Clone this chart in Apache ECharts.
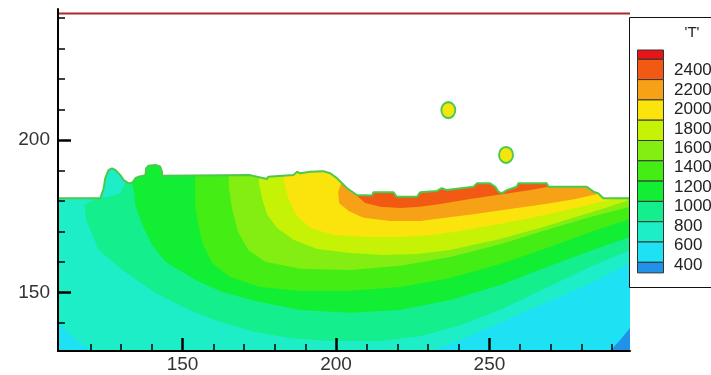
<!DOCTYPE html>
<html>
<head>
<meta charset="utf-8">
<script src="https://cdn.jsdelivr.net/npm/echarts@6/dist/echarts.min.js"></script>
<style>
  html, body { margin: 0; padding: 0; background: #fff; }
  #chart { width: 711px; height: 375px; }
</style>
</head>
<body>
<div id="chart"></div>
<script>
// axis extents and ticks
const xRange = [109.4, 295.8];
const yRange = [130.9, 242.9];
const xMajorTicks = [150, 200, 250];
const xMinorTicks = [120, 130, 140, 160, 170, 180, 190, 210, 220, 230, 240, 260, 270, 280, 290];
const yMajorTicks = [150, 200];
const yMinorTicks = [140, 160, 170, 180, 190, 210, 220, 230, 240];

// legend levels (top to bottom) and the contour palette
const legendLevels = [2400, 2200, 2000, 1800, 1600, 1400, 1200, 1000, 800, 600, 400];
const palette = ['#e8141a', '#f25a14', '#f7a116', '#fae40c', '#c5f205', '#84ee12',
                 '#44ee14', '#12ee34', '#14ee8c', '#1eeec8', '#1ee2f4', '#2092e8'];

// filled contour regions, T above each level (x, y in model units)
const bandBlue = [[109.4,130.9],[295.8,130.9],[295.8,194],[109.4,194]];
const bandCyan = [[109.4,130.9],[289.3,130.9],[292.6,134.5],[295.8,138.4],[295.8,194],[109.4,194]];
const bandTeal = [[109.4,140.5],[113.4,136.3],[117.3,133.1],[120.9,130.9],[230.7,130.9],[240.5,134.5],
  [253.5,140.2],[266.5,145.8],[282.9,153.0],[295.8,159.8],[295.8,194],[109.4,194]];
const bandGreenTeal = [[131.0,190.2],[131.3,186.2],[129.7,182.6],[126.5,181.5],[121.6,180.7],[118.0,178.7],
  [118.6,173.8],[120.6,168.9],[122.6,164.0],[130.4,157.4],[141.1,149.9],[151.9,144.4],[162.9,140.2],
  [173.7,137.1],[185.1,135.1],[198.1,134.2],[214.4,134.2],[227.4,135.7],[240.5,139.3],[253.5,144.4],
  [269.8,152.2],[282.9,158.5],[295.8,164.0],[295.8,194],[131.0,194]];
const bandGreen1 = [[134.3,190.2],[133.6,185.6],[134.3,182.3],[134.6,178.7],[136.9,172.2],[140.1,165.6],
  [144.4,160.1],[154.1,154.2],[162.9,150.2],[173.7,147.3],[188.3,144.3],[204.6,143.4],[220.9,144.3],
  [237.2,147.6],[253.5,152.5],[269.8,158.8],[282.9,163.7],[295.8,168.2],[295.8,194],[134.3,194]];
const bandGreen2 = [[154.1,190.2],[154.1,183.6],[154.1,178.7],[155.1,172.2],[156.7,165.6],[159.7,159.7],
  [165.5,155.1],[175.3,151.9],[188.3,150.6],[204.6,150.6],[220.9,151.9],[237.2,154.8],[253.5,159.4],
  [269.8,165.0],[282.9,169.9],[295.8,174.1],[295.8,194],[154.1,194]];
const bandLightGreen = [[164.9,190.2],[165.2,183.6],[166.2,177.1],[168.1,169.9],[171.4,164.0],[176.9,160.1],
  [188.3,157.8],[204.6,157.4],[220.9,158.8],[237.2,161.7],[253.5,165.9],[269.8,170.9],[282.9,174.8],
  [295.8,178.1],[295.8,194],[164.9,194]];
const bandYellowGreen = [[174.7,190.2],[175.0,185.3],[176.0,180.4],[177.6,175.4],[180.8,171.2],[186.1,167.3],
  [193.9,164.3],[204.6,163.0],[215.4,162.3],[226.5,162.7],[237.2,164.0],[253.5,167.6],[266.5,171.2],
  [277.3,174.5],[287.8,177.7],[295.8,180.4],[295.8,194],[174.7,194]];
const bandYellow = [[182.8,190.2],[183.1,186.2],[184.4,181.0],[187.0,175.4],[191.6,171.2],[199.1,168.9],
  [210.2,168.2],[220.9,168.2],[231.7,168.9],[240.5,170.2],[253.5,172.5],[266.5,175.1],[278.0,177.7],
  [286.2,179.7],[290.1,180.7],[291.1,183.6],[291.1,194],[182.8,194]];
const bandOrange = [[202.3,187.6],[200.7,183.0],[201.0,179.4],[204.0,176.8],[208.9,174.5],[217.7,173.5],
  [227.4,173.5],[235.6,174.5],[245.3,175.8],[256.7,177.4],[268.2,179.0],[278.0,180.7],[285.2,182.3],
  [286.2,185.3],[286.2,194],[202.3,194]];
const bandOrangeRed = [[206.6,185.3],[206.9,181.7],[209.5,179.4],[214.4,178.1],[220.9,177.7],[227.4,178.1],
  [233.9,179.0],[243.7,180.7],[255.8,182.5],[263.3,183.6],[270.4,184.9],[271.4,187.6],[271.4,194],[206.6,194]];

// free surface of the part
const surface = [[109.4,180.9],[123.2,180.9],[124.3,184.2],[124.8,187.5],[125.9,190.2],[127.0,190.7],
  [128.1,190.2],[129.7,188.5],[130.8,186.9],[132.4,185.8],[133.7,186.1],[134.6,187.5],[135.7,188.0],
  [137.9,188.5],[138.1,190.7],[138.9,191.6],[141.1,191.8],[142.7,191.3],[143.3,189.6],[143.3,188.3],
  [172.0,188.5],[177.5,187.2],[177.9,188.0],[186.1,188.5],[187.3,189.6],[188.3,189.1],[191.6,189.6],
  [195.8,189.8],[198.1,189.1],[200.3,187.5],[203.6,184.2],[206.8,182.0],[211.7,181.8],[212.2,182.9],
  [218.7,182.9],[219.8,181.4],[226.4,181.4],[227.4,182.9],[232.9,183.3],[234.5,184.2],[236.1,183.6],
  [244.8,184.7],[245.9,185.8],[250.2,185.8],[251.9,184.7],[252.9,183.1],[254.0,182.5],[255.7,183.6],
  [258.9,184.7],[259.4,185.8],[268.7,185.8],[269.2,184.7],[281.7,184.7],[283.9,183.1],[285.5,182.5],
  [287.1,180.9],[295.8,180.9]];

// droplets above the surface and the top boundary line
const dropletX = [236.6, 255.4];
const dropletY = [209.8, 195.1];
const topLineY = 241.4;

const layers = [bandBlue, bandCyan, bandTeal, bandGreenTeal, bandGreen1, bandGreen2,
  bandLightGreen, bandYellowGreen, bandYellow, bandOrange, bandOrangeRed];
const layerColors = layers.map((_, i) => palette[palette.length - 1 - i]);
// air above the surface masks the bands
layers.push(surface.concat([[xRange[1], yRange[1]], [xRange[0], yRange[1]]]));
layerColors.push('#ffffff');

const font = 'Liberation Sans, Arial, sans-serif';

const graphic = [];
graphic.push({type: 'rect', z: 100, shape: {x: 629.5, y: 17.5, width: 100, height: 270},
  style: {fill: '#fff', stroke: '#111', lineWidth: 1}});
graphic.push({type: 'text', z: 101, x: 692, y: 33,
  style: {text: "'T'", fontSize: 15, fontFamily: font, fill: '#222', align: 'center', verticalAlign: 'middle'}});
let by = 50;
palette.forEach((c, i) => {
  const h = i === 0 ? 9.3 : (i === palette.length - 1 ? 10.6 : 20.3);
  graphic.push({type: 'rect', z: 101, shape: {x: 637.5, y: by, width: 26, height: h},
    style: {fill: c, stroke: '#333', lineWidth: 1}});
  by += h;
});
legendLevels.forEach((v, i) => {
  graphic.push({type: 'text', z: 101, x: 674, y: 70.5 + i * 19.45,
    style: {text: String(v), fontSize: 17, fontFamily: font, fill: '#222', verticalAlign: 'middle'}});
});

const baseAxis = {
  type: 'value',
  z: 10,
  splitLine: {show: false},
  axisLine: {onZero: false, lineStyle: {color: '#000', width: 2}},
};

const option = {
  backgroundColor: '#fff',
  animation: false,
  grid: {left: 58, top: 9, width: 572, height: 342},
  xAxis: [
    Object.assign({}, baseAxis, {
      min: xRange[0], max: xRange[1], position: 'bottom',
      axisTick: {inside: true, length: 7, customValues: xMinorTicks, lineStyle: {color: '#000', width: 1.5}},
      axisLabel: {show: false},
    }),
    Object.assign({}, baseAxis, {
      min: xRange[0], max: xRange[1], position: 'bottom',
      axisLine: {show: false, onZero: false},
      axisTick: {inside: true, length: 13, customValues: xMajorTicks, lineStyle: {color: '#000', width: 2.5}},
      axisLabel: {customValues: xMajorTicks, fontSize: 19, fontFamily: font, color: '#333', margin: 4},
    }),
  ],
  yAxis: [
    Object.assign({}, baseAxis, {
      min: yRange[0], max: yRange[1], position: 'left',
      axisTick: {inside: true, length: 7, customValues: yMinorTicks, lineStyle: {color: '#000', width: 1.5}},
      axisLabel: {show: false},
    }),
    Object.assign({}, baseAxis, {
      min: yRange[0], max: yRange[1], position: 'left',
      axisLine: {show: false, onZero: false},
      axisTick: {inside: true, length: 13, customValues: yMajorTicks, lineStyle: {color: '#000', width: 2.5}},
      axisLabel: {customValues: yMajorTicks, fontSize: 19, fontFamily: font, color: '#333', margin: 8},
    }),
  ],
  graphic,
  series: [
    {
      type: 'custom',
      silent: true,
      renderItem: (params, api) => {
        const i = api.value(0);
        return {
          type: 'polygon',
          shape: {points: layers[i].map(p => api.coord(p))},
          style: {fill: layerColors[i]},
        };
      },
      data: layers.map((_, i) => [i]),
      z: 1,
    },
    {
      type: 'line',
      data: surface,
      symbol: 'none',
      silent: true,
      lineStyle: {color: '#4cc84c', width: 2},
      z: 3,
    },
    {
      type: 'line',
      data: [[xRange[0], topLineY], [xRange[1], topLineY]],
      symbol: 'none',
      silent: true,
      lineStyle: {color: '#aa2a2a', width: 2},
      z: 3,
    },
    {
      type: 'scatter',
      data: dropletX.map((x, i) => [x, dropletY[i]]),
      symbol: 'circle',
      symbolSize: [14, 16],
      silent: true,
      itemStyle: {color: '#f3e60e', borderColor: '#4cc84c', borderWidth: 2, opacity: 1},
      z: 4,
    },
  ],
};

const chart = echarts.init(document.getElementById('chart'));
chart.setOption(option);
</script>
</body>
</html>
